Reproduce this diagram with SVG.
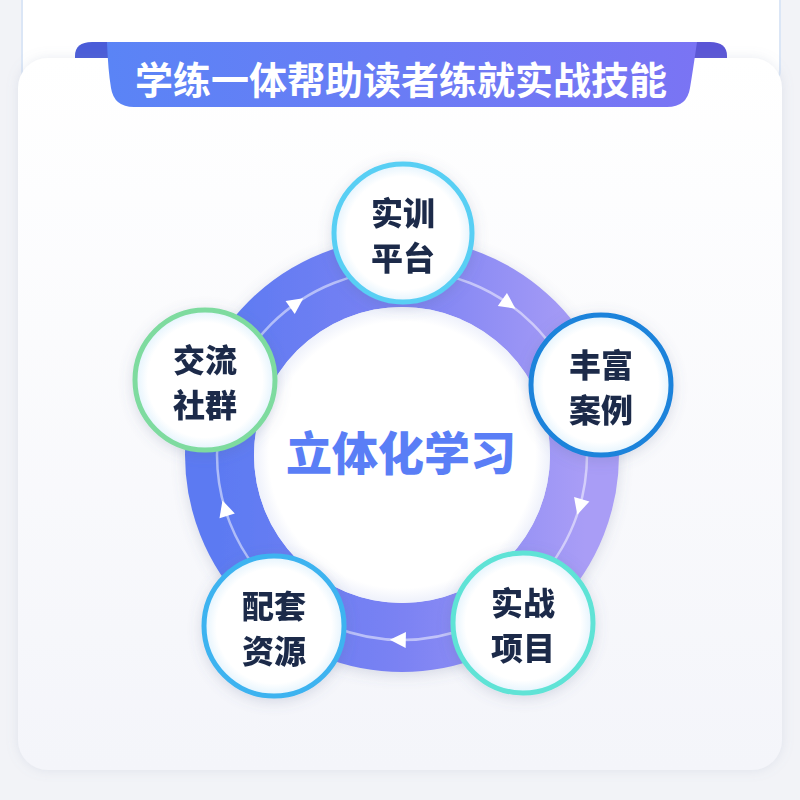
<svg xmlns="http://www.w3.org/2000/svg" width="800" height="800" viewBox="0 0 800 800">
  <defs>
    <style>
      .cjk { font-family: "Noto Sans CJK SC", "Noto Sans", sans-serif; }
      .label { font-size: 32px; font-weight: 900; fill: #1b2a4a; text-anchor: middle; dominant-baseline: central; }
      .nodefill { fill: url(#nodeIn); }
      .arrow { fill: #ffffff; }
    </style>
    <linearGradient id="cardGrad" x1="0" y1="0" x2="0" y2="1">
      <stop offset="0" stop-color="#ffffff"/>
      <stop offset="1" stop-color="#f4f5fa"/>
    </linearGradient>
    <linearGradient id="bannerGrad" x1="0" y1="0" x2="1" y2="0">
      <stop offset="0" stop-color="#5a84f6"/>
      <stop offset="1" stop-color="#7a74f4"/>
    </linearGradient>
    <linearGradient id="ringGrad" x1="0" y1="0" x2="1" y2="0">
      <stop offset="0" stop-color="#5c7af2"/>
      <stop offset="0.5" stop-color="#7b82f3"/>
      <stop offset="1" stop-color="#a99df6"/>
    </linearGradient>
    <radialGradient id="nodeIn" cx="0.5" cy="0.5" r="0.5">
      <stop offset="0.82" stop-color="#ffffff"/>
      <stop offset="1" stop-color="#e3f3fd"/>
    </radialGradient>
    <radialGradient id="innerGlow" cx="0.5" cy="0.5" r="0.5">
      <stop offset="0.9" stop-color="#ffffff"/>
      <stop offset="1" stop-color="#eef1fb"/>
    </radialGradient>
    <filter id="shadow" x="-30%" y="-30%" width="160%" height="160%">
      <feDropShadow dx="0" dy="3" stdDeviation="7" flood-color="#5a6a90" flood-opacity="0.22"/>
    </filter>
    <filter id="cardShadow" x="-10%" y="-10%" width="120%" height="120%">
      <feDropShadow dx="0" dy="0" stdDeviation="6" flood-color="#8090b0" flood-opacity="0.18"/>
    </filter>
  </defs>

  <!-- page background -->
  <rect x="0" y="0" width="800" height="800" fill="#f2f3f7"/>
  <!-- upper card remnant -->
  <rect x="22" y="-30" width="758" height="120" rx="20" fill="#ffffff" stroke="#dbe6f6" stroke-width="2"/>

  <!-- ribbon tabs -->
  <path d="M75,64 V56 Q75,42 92,42 H112 V64 Z" fill="#4a5cd8"/>
  <path d="M727,64 V56 Q727,42 710,42 H690 V64 Z" fill="#5a55d6"/>

  <!-- main card -->
  <rect x="18" y="58" width="764" height="712" rx="30" fill="url(#cardGrad)" filter="url(#cardShadow)"/>

  <!-- banner -->
  <g id="title">
    <path d="M107,42 H697 Q693,70 690,88 Q687,107 667,107 H134 Q114,107 111,88 Q108,70 107,42 Z" fill="url(#bannerGrad)"/>
    <text class="cjk" x="401" y="77" font-size="38" font-weight="700" fill="#ffffff" text-anchor="middle" dominant-baseline="central">学练一体帮助读者练就实战技能</text>
  </g>

  <!-- ring -->
  <g id="connectors">
    <circle cx="402" cy="455" r="182.5" fill="none" stroke="url(#ringGrad)" stroke-width="69" filter="url(#shadow)"/>
    <circle cx="402" cy="455" r="185" fill="none" stroke="#ffffff" stroke-opacity="0.5" stroke-width="2.5"/>
    <path class="arrow" d="M9,0 L-7,-8 L-7,8 Z" transform="translate(295.9,303.5) rotate(-35)"/>
    <path class="arrow" d="M9,0 L-7,-8 L-7,8 Z" transform="translate(508.1,303.5) rotate(35)"/>
    <path class="arrow" d="M9,0 L-7,-8 L-7,8 Z" transform="translate(579.8,506) rotate(106)"/>
    <path class="arrow" d="M9,0 L-7,-8 L-7,8 Z" transform="translate(398.8,640) rotate(181)"/>
    <path class="arrow" d="M9,0 L-7,-8 L-7,8 Z" transform="translate(225.1,509.1) rotate(253)"/>
  </g>

  <!-- center -->
  <g id="center">
    <circle cx="402" cy="455" r="148" fill="url(#innerGlow)"/>
    <text class="cjk" x="401" y="450" font-size="46" font-weight="900" fill="#5a7ef6" text-anchor="middle" dominant-baseline="central">立体化学习</text>
  </g>

  <g id="node-train" filter="url(#shadow)">
    <circle cx="403" cy="233" r="69" class="nodefill" stroke="#58cff4" stroke-width="5"/>
    <text class="cjk label" x="403" y="211">实训</text>
    <text class="cjk label" x="403" y="256">平台</text>
  </g>

  <g id="node-cases" filter="url(#shadow)">
    <circle cx="601" cy="385" r="70" class="nodefill" stroke="#1a83db" stroke-width="5"/>
    <text class="cjk label" x="601" y="363">丰富</text>
    <text class="cjk label" x="601" y="408">案例</text>
  </g>

  <g id="node-projects" filter="url(#shadow)">
    <circle cx="523" cy="623" r="70" class="nodefill" stroke="#5fe3d6" stroke-width="5"/>
    <text class="cjk label" x="523" y="601">实战</text>
    <text class="cjk label" x="523" y="646">项目</text>
  </g>

  <g id="node-resources" filter="url(#shadow)">
    <circle cx="274" cy="626" r="70" class="nodefill" stroke="#3db3f0" stroke-width="5"/>
    <text class="cjk label" x="274" y="604">配套</text>
    <text class="cjk label" x="274" y="649">资源</text>
  </g>

  <g id="node-community" filter="url(#shadow)">
    <circle cx="205" cy="380" r="70" class="nodefill" stroke="#7edb9f" stroke-width="5"/>
    <text class="cjk label" x="205" y="358">交流</text>
    <text class="cjk label" x="205" y="403">社群</text>
  </g>
</svg>
